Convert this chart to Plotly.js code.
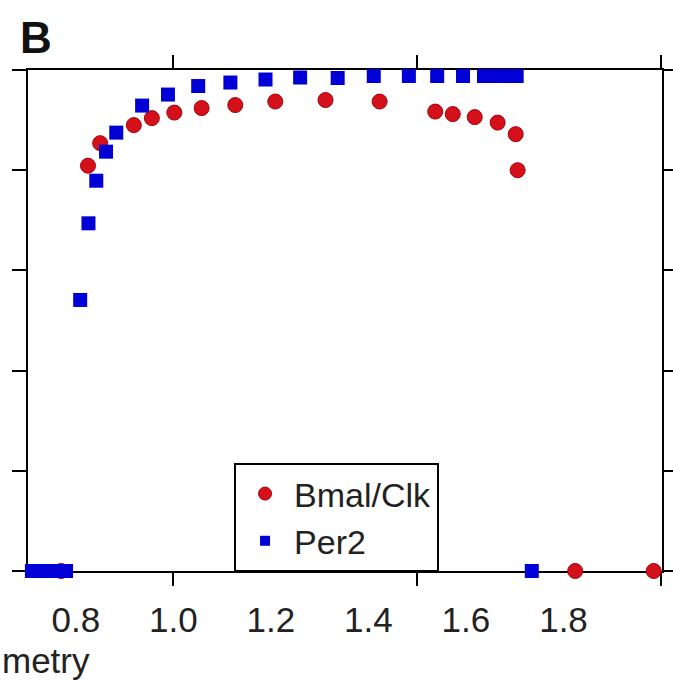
<!DOCTYPE html>
<html>
<head>
<meta charset="utf-8">
<script src="https://cdn.plot.ly/plotly-3.0.1.min.js"></script>
<style>html,body{margin:0;padding:0;background:#fff;}#chart{width:673px;height:681px;}</style>
</head>
<body>
<div id="chart"></div>
<script>
// Bmal/Clk series
var bmalX = [0.770, 0.825, 0.850, 0.919, 0.956, 1.002, 1.058, 1.127, 1.209, 1.312, 1.423, 1.537, 1.573, 1.618, 1.665, 1.702, 1.706, 1.824, 1.985];
var bmalY = [0, 0.809, 0.854, 0.890, 0.904, 0.915, 0.924, 0.930, 0.937, 0.940, 0.937, 0.917, 0.912, 0.906, 0.895, 0.872, 0.800, 0, 0];
// Per2 series
var per2X = [0.710, 0.720, 0.730, 0.740, 0.750, 0.760, 0.770, 0.780, 0.809, 0.826, 0.842, 0.862, 0.883, 0.936, 0.989, 1.051, 1.117, 1.189, 1.260, 1.337, 1.411, 1.483, 1.541, 1.594, 1.637, 1.654, 1.671, 1.688, 1.704, 1.735];
var per2Y = [0, 0, 0, 0, 0, 0, 0, 0, 0.541, 0.694, 0.779, 0.837, 0.875, 0.929, 0.951, 0.968, 0.975, 0.981, 0.985, 0.984, 0.988, 0.988, 0.988, 0.988, 0.988, 0.988, 0.988, 0.988, 0.988, 0];
// ticks
var xTickMarks = [1.0, 1.5, 2.0];
var xTickLabels = [0.8, 1.0, 1.2, 1.4, 1.6, 1.8];
var xTickText = ['0.8', '1.0', '1.2', '1.4', '1.6', '1.8'];
var yTickMarks = [0, 0.2, 0.4, 0.6, 0.8, 1.0];
var seriesNames = ['Bmal/Clk', 'Per2'];

var RED = '#d4101a', BLUE = '#0000d6';
var FONT = 'Liberation Sans, Arial, Helvetica, sans-serif';

var traces = [
  {x: bmalX, y: bmalY, type: 'scatter', mode: 'markers', name: seriesNames[0], showlegend: false, cliponaxis: false,
   marker: {symbol: 'circle', size: 15, color: RED, line: {color: '#a8000a', width: 1}}},
  {x: per2X, y: per2Y, type: 'scatter', mode: 'markers', name: seriesNames[1], showlegend: false, cliponaxis: false,
   marker: {symbol: 'square', size: 14, color: BLUE, line: {width: 0}}},
  {x: [null], y: [null], type: 'scatter', mode: 'markers', name: seriesNames[0], showlegend: true,
   marker: {symbol: 'circle', size: 13, color: RED, line: {color: '#a8000a', width: 1}}},
  {x: [null], y: [null], type: 'scatter', mode: 'markers', name: seriesNames[1], showlegend: true,
   marker: {symbol: 'square', size: 10, color: BLUE}},
  {x: [null], y: [null], xaxis: 'x2', type: 'scatter', mode: 'markers', showlegend: false, hoverinfo: 'skip'}
];

var layout = {
  width: 673, height: 681,
  margin: {l: 28, r: 11, t: 70, b: 110, pad: 0},
  paper_bgcolor: '#ffffff', plot_bgcolor: '#ffffff',
  font: {family: FONT, size: 35, color: '#222'},
  showlegend: true,
  xaxis: {
    range: [0.702, 2.002], showgrid: false, zeroline: false,
    showline: true, linecolor: '#000', linewidth: 2, mirror: 'ticks',
    tickmode: 'array', tickvals: xTickMarks, ticks: 'outside', ticklen: 13, tickwidth: 2, tickcolor: '#000',
    showticklabels: false, layer: 'below traces'
  },
  xaxis2: {
    overlaying: 'x', anchor: 'y', side: 'bottom',
    range: [0.702, 2.002], showgrid: false, zeroline: false, showline: false,
    tickmode: 'array', tickvals: xTickLabels, ticktext: xTickText, ticks: '',
    ticklabelstandoff: 25,
    tickfont: {family: FONT, size: 35, color: '#222'}
  },
  yaxis: {
    range: [0, 1], showgrid: false, zeroline: false,
    showline: true, linecolor: '#000', linewidth: 2, mirror: 'ticks',
    tickmode: 'array', tickvals: yTickMarks, ticks: 'outside', ticklen: 14, tickwidth: 2, tickcolor: '#000',
    showticklabels: false, layer: 'below traces'
  },
  legend: {
    x: 0.325, xanchor: 'left', y: 0.2156, yanchor: 'top',
    bgcolor: '#ffffff', bordercolor: '#000', borderwidth: 2,
    font: {family: FONT, size: 34, color: '#222'},
    itemwidth: 48, itemsizing: 'trace', tracegroupgap: 0
  },
  annotations: [
    {text: '<b>B</b>', xref: 'paper', yref: 'paper', x: -0.0158, y: 1.064, xanchor: 'left', yanchor: 'middle',
     showarrow: false, font: {family: FONT, size: 44, color: '#111'}},
    {text: 'metry', xref: 'paper', yref: 'paper', x: -0.0442, y: -0.178, xanchor: 'left', yanchor: 'middle',
     showarrow: false, font: {family: FONT, size: 35, color: '#222'}}
  ]
};

Plotly.newPlot('chart', traces, layout, {displayModeBar: false, staticPlot: true});
</script>
</body>
</html>
